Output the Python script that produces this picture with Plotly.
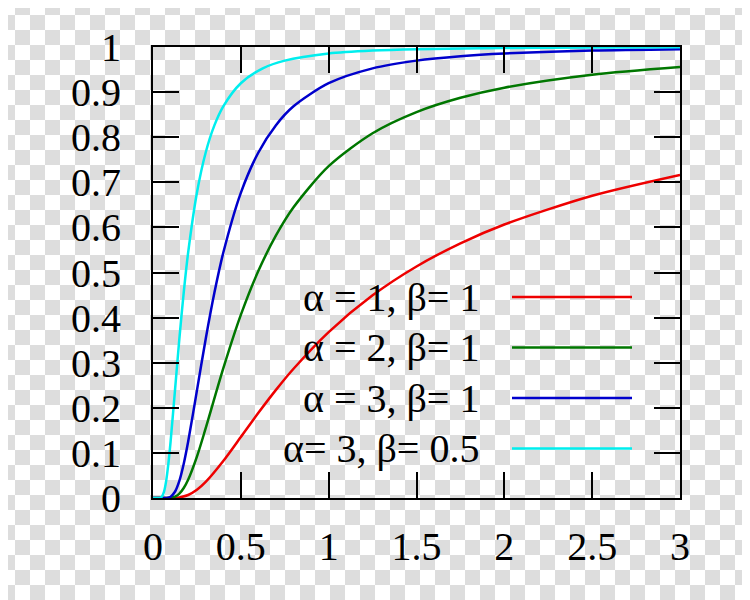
import base64
import plotly.graph_objects as go

# ---- data ----
x_a1b1 = [0, 0.1, 0.15, 0.2, 0.25, 0.3, 0.4, 0.5, 0.6, 0.7, 0.8, 1.0, 1.25, 1.5, 1.75, 2.0, 2.5, 3.0]
y_a1b1 = [0, 0.0000, 0.0013, 0.0067, 0.0183, 0.0357, 0.0821, 0.1353, 0.1889, 0.2397, 0.2865, 0.3679,
          0.4493, 0.5134, 0.5647, 0.6065, 0.6703, 0.7165]

x_a2b1 = [0, 0.1, 0.125, 0.15, 0.175, 0.2, 0.25, 0.3, 0.4, 0.5, 0.6, 0.7, 0.8, 1.0, 1.25, 1.5, 1.75, 2.0, 2.5, 3.0]
y_a2b1 = [0, 0.0005, 0.0030, 0.0097, 0.0222, 0.0404, 0.0916, 0.1547, 0.2873, 0.4060, 0.5037, 0.5821, 0.6446,
          0.7358, 0.8088, 0.8557, 0.8874, 0.9098, 0.9384, 0.9554]

x_a3b1 = [0, 0.08, 0.1, 0.125, 0.15, 0.175, 0.2, 0.25, 0.3, 0.35, 0.4, 0.5, 0.6, 0.7, 0.8, 1.0, 1.25, 1.5, 1.75, 2.0, 2.5, 3.0]
y_a3b1 = [0, 0.0003, 0.0028, 0.0138, 0.0380, 0.0760, 0.1247, 0.2381, 0.3527, 0.4560, 0.5438, 0.6767, 0.7661,
          0.8267, 0.8685, 0.9197, 0.9526, 0.9698, 0.9796, 0.9856, 0.9921, 0.9952]

x_a3b05 = [0, 0.04, 0.05, 0.0625, 0.075, 0.0875, 0.1, 0.125, 0.15, 0.175, 0.2, 0.25, 0.3, 0.35, 0.4, 0.5, 0.625,
           0.75, 1.0, 1.25, 1.5, 2.0, 2.5, 3.0]
y_a3b05 = [0, 0.0003, 0.0028, 0.0138, 0.0380, 0.0760, 0.1247, 0.2381, 0.3527, 0.4560, 0.5438, 0.6767, 0.7661,
           0.8267, 0.8685, 0.9197, 0.9526, 0.9698, 0.9856, 0.9921, 0.9952, 0.9978, 0.9988, 0.9994]

series_labels = ["α = 1, β= 1", "α = 2, β= 1", "α = 3, β= 1", "α= 3, β= 0.5"]
series_colors = ["#ee0000", "#007700", "#0000cc", "#00eeee"]
x_ticks = [0, 0.5, 1, 1.5, 2, 2.5, 3]
y_ticks = [0, 0.1, 0.2, 0.3, 0.4, 0.5, 0.6, 0.7, 0.8, 0.9, 1]

series = [(x_a1b1, y_a1b1), (x_a2b1, y_a2b1), (x_a3b1, y_a3b1), (x_a3b05, y_a3b05)]

FONT = "Liberation Serif"
OFF = 8  # page body margin
W, H = 750 - OFF, 600 - OFF
L, R, T, B = 153 - OFF, 70, 47 - OFF, 102
pw, ph = W - L - R, H - T - B

fig = go.Figure()
for (xs, ys), name, col in zip(series, series_labels, series_colors):
    fig.add_trace(go.Scatter(x=xs, y=ys, mode="lines", name=name,
                             line=dict(color=col, width=2.5, shape="spline", smoothing=0.8),
                             showlegend=False, hoverinfo="skip"))

# checkerboard background (transparency pattern), aligned to the page origin
svg = ("<svg xmlns='http://www.w3.org/2000/svg' width='%d' height='%d'>"
       "<defs><pattern id='p' x='-%d' y='-%d' width='30' height='30' patternUnits='userSpaceOnUse'>"
       "<rect width='30' height='30' fill='#ffffff'/>"
       "<rect x='15' y='0' width='15' height='15' fill='#dddddd'/>"
       "<rect x='0' y='15' width='15' height='15' fill='#dddddd'/>"
       "</pattern></defs><rect width='%d' height='%d' fill='url(#p)'/></svg>") % (W, H, OFF, OFF, W, H)
src = "data:image/svg+xml;base64," + base64.b64encode(svg.encode()).decode()
fig.add_layout_image(source=src, xref="paper", yref="paper",
                     x=-L / pw, y=1 + T / ph, sizex=W / pw, sizey=H / ph,
                     xanchor="left", yanchor="top", sizing="stretch", layer="below")

# legend drawn as text + sample lines (text on the left, line on the right)
legend_rows_px = [297, 347.5, 398, 448.5]
for name, col, ypx in zip(series_labels, series_colors, legend_rows_px):
    yp = (600 - B - ypx) / ph
    fig.add_annotation(x=(481 - 153) / pw, y=yp, xref="paper", yref="paper",
                       text=name, showarrow=False, xanchor="right", yanchor="middle",
                       font=dict(family=FONT, size=40, color="black"))
    fig.add_shape(type="line", xref="paper", yref="paper",
                  x0=(512 - 153) / pw, x1=(632 - 153) / pw, y0=yp, y1=yp,
                  line=dict(color=col, width=2.5))

axis_common = dict(showline=True, linecolor="black", linewidth=2, mirror="ticks",
                   ticks="inside", ticklen=26, tickwidth=1.5, tickcolor="black",
                   showgrid=False, zeroline=False,
                   tickfont=dict(family=FONT, size=40, color="black"))

fig.update_xaxes(range=[0, 3], tickvals=x_ticks, ticktext=[f"{v:g}" for v in x_ticks],
                 ticklabelstandoff=12, **axis_common)
fig.update_yaxes(range=[0, 1], tickvals=y_ticks, ticktext=[f"{v:g}" for v in y_ticks],
                 ticklabelstandoff=22, **axis_common)

fig.update_layout(width=W, height=H, margin=dict(l=L, r=R, t=T, b=B, autoexpand=False),
                  paper_bgcolor="white", plot_bgcolor="rgba(0,0,0,0)",
                  font=dict(family=FONT))

fig.write_html("out.html")
